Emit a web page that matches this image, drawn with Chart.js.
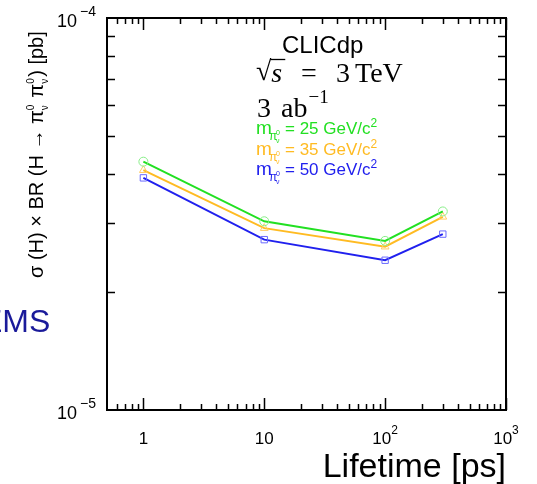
<!DOCTYPE html>
<html>
<head>
<meta charset="utf-8">
<script src="https://cdn.jsdelivr.net/npm/chart.js@4.4.1/dist/chart.umd.min.js"></script>
<style>
  html, body { margin: 0; padding: 0; background: #fff; }
  #wrap { position: relative; width: 537px; height: 484px; }
</style>
</head>
<body>
<div id="wrap"><canvas id="mainChart" width="537" height="484"></canvas></div>
<script>
// lifetime [ps] and sigma x BR [pb]
const lifetimes = [1, 10, 100, 300];
const sigma25 = [4.30e-5, 3.03e-5, 2.70e-5, 3.21e-5];
const sigma35 = [4.09e-5, 2.91e-5, 2.61e-5, 3.11e-5];
const sigma50 = [3.91e-5, 2.72e-5, 2.41e-5, 2.81e-5];

const xMajorTicks = [1, 10, 100, 1000];
const xMajorBase = ['1', '10', '10', '10'];
const xMajorExp = ['', '', '2', '3'];
const yMajorTicks = [1e-5, 1e-4];
const yMajorExp = ['\u22125', '\u22124'];
const yMinorTicks = [2e-5, 3e-5, 4e-5, 5e-5, 6e-5, 7e-5, 8e-5, 9e-5];

const massLabels = ['25', '35', '50'];
const lineColors = ['#22e022', '#ffbb22', '#2020ee'];
const markerColors = ['#88ee88', '#ffcc66', '#6a6aff'];

const SANS = '"Liberation Sans", Arial, sans-serif';
const SERIF = '"Liberation Serif", "DejaVu Serif", serif';

function pts(ys) {
  return lifetimes.map((x, i) => ({ x: x, y: ys[i] }));
}

function xMinorTicks() {
  const out = [];
  for (let d = 0.1; d < 1000; d *= 10) {
    for (let k = 2; k <= 9; k++) {
      const v = +(k * d).toPrecision(3);
      if (v > 0.5 && v < 1000) out.push(v);
    }
  }
  return out;
}

const frameAndText = {
  id: 'frameAndText',
  afterDraw(chart) {
    const { ctx, chartArea: a, scales } = chart;
    const xs = scales.x, ys = scales.y;
    ctx.save();
    ctx.strokeStyle = '#000';
    ctx.fillStyle = '#000';
    ctx.lineWidth = 2;
    ctx.strokeRect(a.left, a.top, a.right - a.left, a.bottom - a.top);

    // x ticks, bottom and top
    ctx.beginPath();
    xMajorTicks.forEach((v) => {
      const px = Math.round(xs.getPixelForValue(v)) + 0.5;
      ctx.moveTo(px, a.bottom); ctx.lineTo(px, a.bottom - 12);
      ctx.moveTo(px, a.top); ctx.lineTo(px, a.top + 12);
    });
    xMinorTicks().forEach((v) => {
      const px = Math.round(xs.getPixelForValue(v)) + 0.5;
      ctx.moveTo(px, a.bottom); ctx.lineTo(px, a.bottom - 6);
      ctx.moveTo(px, a.top); ctx.lineTo(px, a.top + 6);
    });
    yMinorTicks.forEach((v) => {
      const py = Math.round(ys.getPixelForValue(v)) + 0.5;
      ctx.moveTo(a.left, py); ctx.lineTo(a.left + 8, py);
      ctx.moveTo(a.right, py); ctx.lineTo(a.right - 8, py);
    });
    ctx.lineWidth = 1.5;
    ctx.stroke();

    // x tick labels
    ctx.textBaseline = 'alphabetic';
    xMajorTicks.forEach((v, i) => {
      const px = xs.getPixelForValue(v);
      ctx.font = '17px ' + SANS;
      const w1 = ctx.measureText(xMajorBase[i]).width;
      ctx.font = '12px ' + SANS;
      const w2 = xMajorExp[i] ? ctx.measureText(xMajorExp[i]).width : 0;
      const x0 = px - (w1 + w2) / 2;
      ctx.font = '17px ' + SANS;
      ctx.fillText(xMajorBase[i], x0, 444);
      if (w2) {
        ctx.font = '12px ' + SANS;
        ctx.fillText(xMajorExp[i], x0 + w1, 434);
      }
    });

    // y tick labels
    yMajorTicks.forEach((v, i) => {
      const py = ys.getPixelForValue(v);
      ctx.font = '18px ' + SANS;
      ctx.fillText('10', 57, py + 9);
      ctx.font = '14px ' + SANS;
      ctx.fillText(yMajorExp[i], 80, py - 2);
    });

    // axis titles
    ctx.font = '34px ' + SANS;
    ctx.textAlign = 'right';
    ctx.fillText('Lifetime [ps]', 506, 477);
    ctx.textAlign = 'left';

    ctx.save();
    ctx.translate(43, 278);
    ctx.rotate(-Math.PI / 2);
    const f = '20px ' + SANS, ft = '10px ' + SANS;
    ctx.font = f;
    let tx = 0;
    const lead = '\u03c3 (H) \u00d7 BR (H \u2192 ';
    ctx.fillText(lead, tx, 0);
    tx += ctx.measureText(lead).width;
    const piSub = (x0) => {
      ctx.font = f;
      ctx.fillText('\u03c0', x0, 0);
      const pw = ctx.measureText('\u03c0').width;
      ctx.font = ft;
      ctx.fillText('0', x0 + pw, -9);
      ctx.fillText('\u03bd', x0 + pw, 5);
      return x0 + pw + 7;
    };
    tx = piSub(tx);
    ctx.font = f;
    tx += ctx.measureText(' ').width;
    tx = piSub(tx);
    ctx.font = f;
    ctx.fillText(') [pb]', tx, 0);
    ctx.restore();

    // CLICdp label block
    ctx.font = '24px ' + SANS;
    ctx.fillText('CLICdp', 282, 53);

    ctx.font = '28px ' + SERIF;
    ctx.fillText('\u221a', 256, 80);
    const rw = ctx.measureText('\u221a').width;
    ctx.font = 'italic 28px ' + SERIF;
    ctx.fillText('s', 256 + rw, 82);
    const sw = ctx.measureText('s').width;
    ctx.lineWidth = 1.3;
    ctx.beginPath();
    ctx.moveTo(256 + rw - 1, 59.5);
    ctx.lineTo(256 + rw + sw + 3, 59.5);
    ctx.stroke();
    ctx.font = '28px ' + SERIF;
    ctx.fillText('=', 301, 82);
    ctx.fillText('3', 336, 82);
    ctx.fillText('TeV', 355, 82);

    ctx.font = '28px ' + SERIF;
    ctx.fillText('3', 257, 117);
    ctx.fillText('ab', 281, 117);
    const aw = ctx.measureText('ab').width;
    ctx.font = '19px ' + SERIF;
    ctx.fillText('\u22121', 281 + aw + 1, 103);

    // mass legend
    massLabels.forEach((m, i) => {
      const by = 134 + i * 20.5;
      ctx.fillStyle = lineColors[i];
      ctx.font = '19px ' + SANS;
      ctx.fillText('m', 256, by);
      ctx.font = '12px ' + SANS;
      ctx.fillText('\u03c0', 269, by + 6);
      ctx.font = '7px ' + SANS;
      ctx.fillText('0', 276, by + 1);
      ctx.fillText('\u03bd', 276, by + 9);
      ctx.font = '17px ' + SANS;
      const t = '= ' + m + ' GeV/c';
      ctx.fillText(t, 285, by);
      const tw = ctx.measureText(t).width;
      ctx.font = '12px ' + SANS;
      ctx.fillText('2', 285 + tw, by - 7);
    });

    // clipped text at the left edge
    ctx.fillStyle = '#1a1a9a';
    ctx.font = '32px ' + SANS;
    ctx.fillText('EMS', -19, 332);
    ctx.restore();
  }
};

function series(label, ys, i, shape) {
  return {
    label: label,
    data: pts(ys),
    borderColor: lineColors[i],
    borderWidth: 2,
    pointStyle: shape,
    pointRadius: 4.5,
    pointBorderWidth: 1,
    pointBorderColor: markerColors[i],
    pointBackgroundColor: 'rgba(255,255,255,0)',
    tension: 0,
    fill: false,
  };
}

new Chart(document.getElementById('mainChart'), {
  type: 'line',
  data: {
    datasets: [
      series('25 GeV', sigma25, 0, 'circle'),
      series('35 GeV', sigma35, 1, 'triangle'),
      series('50 GeV', sigma50, 2, 'rect'),
    ],
  },
  options: {
    responsive: false,
    animation: false,
    devicePixelRatio: 1,
    layout: { padding: { left: 107, right: 31, top: 18, bottom: 74 } },
    plugins: { legend: { display: false }, tooltip: { enabled: false } },
    scales: {
      x: { type: 'logarithmic', min: 0.5, max: 1000, display: false },
      y: { type: 'logarithmic', min: 1e-5, max: 1e-4, display: false },
    },
  },
  plugins: [frameAndText],
});
</script>
</body>
</html>
